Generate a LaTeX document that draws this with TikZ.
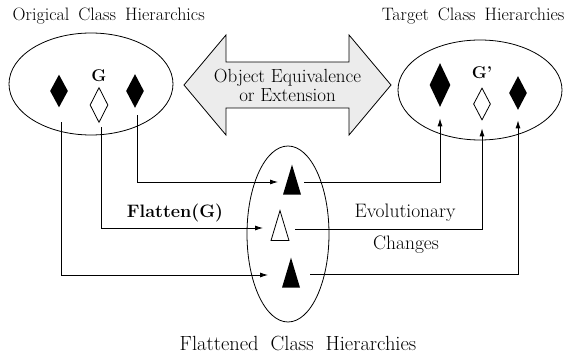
\documentclass[tikz,border=0pt]{standalone}
\usepackage{amsmath,amssymb,amsfonts}
\usepackage{fontspec}
\usepackage{xcolor}
\usepackage{tikz}
\usetikzlibrary{shapes.geometric,shapes.arrows,arrows.meta}
\newcommand\widespace[1]{\spaceskip=#1\relax}

\begin{document}
\begin{tikzpicture}[x=1pt,y=-1pt,line width=0.8pt,
	blk/.style={diamond,fill=black,inner sep=0pt},
	wht/.style={diamond,draw,fill=white,inner sep=0pt},
	tri/.style={isosceles triangle,isosceles triangle stretches,shape border rotate=90,inner sep=0pt,minimum width=18pt,minimum height=30pt,anchor=south},
	hier/.style={ellipse,draw,inner sep=0pt},
	conn/.style={-{Latex[length=8pt,width=5pt]}},
	lbl/.style={font=\fontsize{18}{20}\selectfont\widespace{9pt}}]
	\useasboundingbox (0,0) rectangle (573,355);
	% the three hierarchies
	\node[hier,minimum width=164pt,minimum height=102pt] (orig) at (91,84) {};
	\node[hier,minimum width=164pt,minimum height=100pt] (targ) at (480,90) {};
	\node[hier,minimum width=82pt,minimum height=176pt] (flat) at (288,234) {};
	\node[blk,minimum width=18pt,minimum height=33pt] (dl1) at (59,91) {};
	\node[wht,minimum width=18pt,minimum height=35pt] (dl2) at (99,105) {};
	\node[blk,minimum width=18pt,minimum height=34pt] (dl3) at (135,91) {};
	\node[blk,minimum width=21pt,minimum height=44pt] (dr1) at (440,85) {};
	\node[wht,minimum width=17pt,minimum height=32pt] (dr2) at (482,104) {};
	\node[blk,minimum width=18pt,minimum height=34pt] (dr3) at (518,93) {};
	\node[tri,fill=black] (t1) at (292,195) {};
	\node[tri,draw,fill=white] (t2) at (280,241) {};
	\node[tri,fill=black] (t3) at (291,288) {};
	\node[font=\fontsize{17}{20}\selectfont\bfseries] (g) at (99,76) {G};
	\node[font=\fontsize{17}{20}\selectfont\bfseries] (gp) at (482,73) {G'};
	% equivalence arrow
	\node[double arrow,draw,fill=gray!15,double arrow head extend=25.5pt,double arrow tip angle=100,
		minimum width=100pt,minimum height=207pt,inner sep=5pt,align=center,
		font=\fontsize{19}{19}\selectfont] (eqv) at (287.5,85) {Object Equivalence\\or Extension};
	% flatten
	\draw[conn] ([xshift=2pt,yshift=-14.5pt]dl1.south) |- ([xshift=-23pt,yshift=13pt]t3.south);
	\draw[conn] ([xshift=2pt,yshift=-4.5pt]dl2.south) |- ([xshift=-17pt,yshift=13pt]t2.south);
	\draw[conn] ([xshift=2pt,yshift=-7pt]dl3.south) |- ([xshift=-14pt,yshift=13pt]t1.south);
	% evolution
	\draw[conn] ([xshift=12pt,yshift=13pt]t1.south) -| ([yshift=-11pt]dr1.south);
	\draw[conn] ([xshift=15pt,yshift=12pt]t2.south) -| ([yshift=-8pt]dr2.south);
	\draw[conn] ([xshift=19pt,yshift=14pt]t3.south) -| ([yshift=-10pt]dr3.south);
	\node[font=\fontsize{18}{20}\selectfont\bfseries] (fl) at (175,213) {Flatten(G)};
	\node[font=\fontsize{19.5}{20}\selectfont] (ev) at (405,213) {Evolutionary};
	\node[font=\fontsize{19.5}{20}\selectfont] (ch) at (406,245) {Changes};
	\node[lbl,anchor=west] (tOrig) at (9,16) {Origical Class Hierarchics};
	\node[lbl,anchor=east] (tTarg) at (568,16) {Target Class Hierarchies};
	\node[font=\fontsize{20.5}{22}\selectfont\widespace{12pt}] (tFlat) at (298,343) {Flattened Class Hierarchies};
\end{tikzpicture}
\end{document}
